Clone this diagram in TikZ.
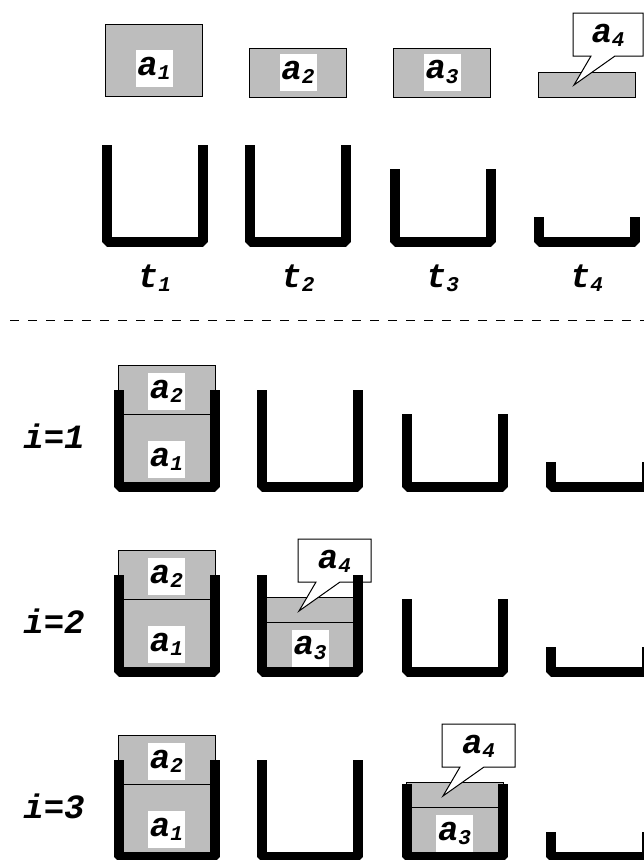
\documentclass[tikz,border=0pt]{standalone}
\usepackage{fontspec}
\setmonofont{Liberation Mono}
% bold italic typewriter used for every label
\newcommand\lblfont{\ttfamily\bfseries\itshape\fontsize{34}{34}\selectfont}
\newcommand\subdig[1]{\raisebox{-0.12em}{\fontsize{21}{21}\selectfont #1}}

\begin{document}
\begin{tikzpicture}[x=1pt,y=-1pt,
  pbox/.style={draw=black, line width=1pt, fill=black!26, minimum width=97pt,
               inner sep=0pt, anchor=south},
  tag/.style={fill=white, inner sep=0pt, minimum width=37pt, minimum height=37pt,
              font=\lblfont},
  txt/.style={inner sep=0pt, font=\lblfont},
  bucketline/.style={line width=10pt, line join=bevel, line cap=butt},
  calloutline/.style={draw=black, fill=white, line width=1pt, line join=miter}]

\useasboundingbox (0,0) rectangle (644,860);

% bucket: centre x, bottom (centre line) y, depth
\newcommand\bucket[3]{%
  \draw[bucketline] ({#1-48},{#2-#3}) -- ({#1-48},#2) -- ({#1+48},#2) -- ({#1+48},{#2-#3});}
% callout: node name, left, top, width
\newcommand\callout[4]{%
  \draw[calloutline] (#2,#3) -- ({#2+#4},#3) -- ({#2+#4},{#3+43}) -- ({#2+42},{#3+43})
     -- ({#2+1},{#3+72}) -- ({#2+18},{#3+43}) -- (#2,{#3+43}) -- cycle;
  \node[txt] (#1) at ({#2+#4/2},{#3+22}) {a\subdig{4}};}

% ---------- items and bins ----------
\node[pbox, minimum height=72pt] (A1) at (154,97) {};
\node[tag] (A1t) at (154,68) {a\subdig{1}};
\node[pbox, minimum height=49pt] (A2) at (298,98) {};
\node[tag] (A2t) at (298,72) {a\subdig{2}};
\node[pbox, minimum height=49pt] (A3) at (442,98) {};
\node[tag] (A3t) at (442,72) {a\subdig{3}};
\node[pbox, minimum height=25pt] (A4) at (586.5,98) {};
\callout{A4t}{573}{13}{70}

\bucket{154.5}{242}{97}
\bucket{298}{242}{97}
\bucket{442.5}{242}{73}
\bucket{586.5}{242}{25}

\node[txt] (T1) at (154.5,278) {t\subdig{1}};
\node[txt] (T2) at (298,278) {t\subdig{2}};
\node[txt] (T3) at (442.5,278) {t\subdig{3}};
\node[txt] (T4) at (586.5,278) {t\subdig{4}};

\coordinate (dl) at (10,320);
\coordinate (dr) at (644,320);
\draw[line width=1pt, dash pattern=on 9pt off 9pt] (dl) -- (dr);

% ---------- i = 1 ----------
\node[txt] (R1) at (54,436) {i=1};
\node[pbox, minimum height=72pt] (R1a1) at (166.5,487) {};
\node[tag] (R1a1t) at (166.5,459) {a\subdig{1}};
\node[pbox, minimum height=49pt] (R1a2) at (166.5,415) {};
\node[tag] (R1a2t) at (166.5,391) {a\subdig{2}};
\bucket{166.5}{487}{97}
\bucket{310}{487}{97}
\bucket{454.5}{487}{73}
\bucket{598.5}{487}{25}

% ---------- i = 2 ----------
\node[txt] (R2) at (54,621) {i=2};
\node[pbox, minimum height=72pt] (R2a1) at (166.5,672) {};
\node[tag] (R2a1t) at (166.5,644) {a\subdig{1}};
\node[pbox, minimum height=49pt] (R2a2) at (166.5,600) {};
\node[tag] (R2a2t) at (166.5,576) {a\subdig{2}};
\node[pbox, minimum height=49pt] (R2a3) at (310,672) {};
\node[tag] (R2a3t) at (310,648) {a\subdig{3}};
\node[pbox, minimum height=25pt] (R2a4) at (310,623) {};
\callout{R2a4t}{298}{539}{73}
\bucket{166.5}{672}{97}
\bucket{310}{672}{97}
\bucket{454.5}{672}{73}
\bucket{598.5}{672}{25}

% ---------- i = 3 ----------
\node[txt] (R3) at (54,806) {i=3};
\node[pbox, minimum height=72pt] (R3a1) at (166.5,857) {};
\node[tag] (R3a1t) at (166.5,829) {a\subdig{1}};
\node[pbox, minimum height=49pt] (R3a2) at (166.5,785) {};
\node[tag] (R3a2t) at (166.5,761) {a\subdig{2}};
\node[pbox, minimum height=49pt] (R3a3) at (454.5,857) {};
\node[tag] (R3a3t) at (454.5,833) {a\subdig{3}};
\node[pbox, minimum height=25pt] (R3a4) at (454.5,808) {};
\callout{R3a4t}{442}{724}{73}
\bucket{166.5}{857}{97}
\bucket{310}{857}{97}
\bucket{454.5}{857}{73}
\bucket{598.5}{857}{25}
\end{tikzpicture}
\end{document}
